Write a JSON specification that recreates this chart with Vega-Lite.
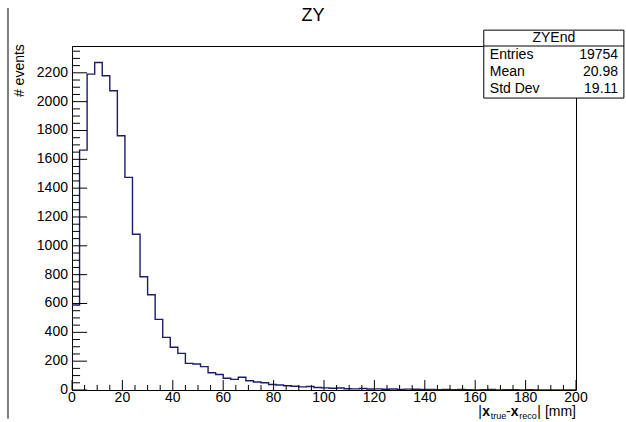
{
  "$schema": "https://vega.github.io/schema/vega-lite/v6.json",
  "width": 504,
  "height": 344,
  "autosize": {"type": "none"},
  "padding": {"left": 72, "top": 46, "right": 50, "bottom": 32},
  "background": "white",
  "config": {
    "view": {"stroke": "black", "strokeWidth": 1},
    "font": "Liberation Sans"
  },
  "datasets": {
    "hist": [
      {"lo": 0, "n": 590}, {"lo": 3, "n": 1664}, {"lo": 6, "n": 2191}, {"lo": 9, "n": 2272}, {"lo": 12, "n": 2180},
      {"lo": 15, "n": 2076}, {"lo": 18, "n": 1764}, {"lo": 21, "n": 1475}, {"lo": 24, "n": 1080}, {"lo": 27, "n": 786},
      {"lo": 30, "n": 661}, {"lo": 33, "n": 490}, {"lo": 36, "n": 365}, {"lo": 39, "n": 296}, {"lo": 42, "n": 254},
      {"lo": 45, "n": 185}, {"lo": 48, "n": 180}, {"lo": 51, "n": 162}, {"lo": 54, "n": 120}, {"lo": 57, "n": 108},
      {"lo": 60, "n": 82}, {"lo": 63, "n": 74}, {"lo": 66, "n": 88}, {"lo": 69, "n": 64}, {"lo": 72, "n": 55},
      {"lo": 75, "n": 50}, {"lo": 78, "n": 38}, {"lo": 81, "n": 35}, {"lo": 84, "n": 30}, {"lo": 87, "n": 26},
      {"lo": 90, "n": 22}, {"lo": 93, "n": 24}, {"lo": 96, "n": 17}, {"lo": 99, "n": 15}, {"lo": 102, "n": 12},
      {"lo": 105, "n": 14}, {"lo": 108, "n": 9}, {"lo": 111, "n": 8}, {"lo": 114, "n": 10}, {"lo": 117, "n": 7},
      {"lo": 120, "n": 8}, {"lo": 123, "n": 5}, {"lo": 126, "n": 7}, {"lo": 129, "n": 4}, {"lo": 132, "n": 6},
      {"lo": 135, "n": 5}, {"lo": 138, "n": 3}, {"lo": 141, "n": 4}, {"lo": 144, "n": 2}, {"lo": 147, "n": 3},
      {"lo": 150, "n": 2}, {"lo": 153, "n": 3}, {"lo": 156, "n": 2}, {"lo": 159, "n": 1}, {"lo": 162, "n": 2},
      {"lo": 165, "n": 3}, {"lo": 168, "n": 1}, {"lo": 171, "n": 2}, {"lo": 174, "n": 2}, {"lo": 177, "n": 1},
      {"lo": 180, "n": 2}, {"lo": 183, "n": 1}, {"lo": 186, "n": 1}, {"lo": 189, "n": 1}, {"lo": 192, "n": 0},
      {"lo": 195, "n": 1}, {"lo": 198, "n": 0}, {"lo": 201, "n": 0}
    ],
    "stats": [
      {"name": "Entries", "value": "19754"},
      {"name": "Mean", "value": "20.98"},
      {"name": "Std Dev", "value": "19.11"}
    ],
    "xticks": [
      {"v": 0}, {"v": 5}, {"v": 10}, {"v": 15}, {"v": 20}, {"v": 25}, {"v": 30}, {"v": 35}, {"v": 40}, {"v": 45},
      {"v": 50}, {"v": 55}, {"v": 60}, {"v": 65}, {"v": 70}, {"v": 75}, {"v": 80}, {"v": 85}, {"v": 90}, {"v": 95},
      {"v": 100}, {"v": 105}, {"v": 110}, {"v": 115}, {"v": 120}, {"v": 125}, {"v": 130}, {"v": 135}, {"v": 140}, {"v": 145},
      {"v": 150}, {"v": 155}, {"v": 160}, {"v": 165}, {"v": 170}, {"v": 175}, {"v": 180}, {"v": 185}, {"v": 190}, {"v": 195}, {"v": 200}
    ],
    "yticks": [
      {"v": 0}, {"v": 50}, {"v": 100}, {"v": 150}, {"v": 200}, {"v": 250}, {"v": 300}, {"v": 350}, {"v": 400}, {"v": 450},
      {"v": 500}, {"v": 550}, {"v": 600}, {"v": 650}, {"v": 700}, {"v": 750}, {"v": 800}, {"v": 850}, {"v": 900}, {"v": 950},
      {"v": 1000}, {"v": 1050}, {"v": 1100}, {"v": 1150}, {"v": 1200}, {"v": 1250}, {"v": 1300}, {"v": 1350}, {"v": 1400}, {"v": 1450},
      {"v": 1500}, {"v": 1550}, {"v": 1600}, {"v": 1650}, {"v": 1700}, {"v": 1750}, {"v": 1800}, {"v": 1850}, {"v": 1900}, {"v": 1950},
      {"v": 2000}, {"v": 2050}, {"v": 2100}, {"v": 2150}, {"v": 2200}, {"v": 2250}, {"v": 2300}, {"v": 2350}
    ],
    "one": [{}]
  },
  "layer": [
    {
      "data": {"name": "hist"},
      "mark": {"type": "line", "interpolate": "step-after", "color": "#1c1c6a", "strokeWidth": 1.4, "clip": true},
      "encoding": {
        "x": {"field": "lo", "type": "quantitative", "scale": {"domain": [0, 200], "nice": false, "zero": false}, "axis": null},
        "y": {"field": "n", "type": "quantitative", "scale": {"domain": [0, 2386], "nice": false, "zero": false}, "axis": null}
      }
    },
    {
      "data": {"name": "xticks"},
      "transform": [{"filter": "datum.v % 20 == 0"}],
      "mark": {"type": "rule", "color": "black", "strokeWidth": 1},
      "encoding": {
        "x": {"field": "v", "type": "quantitative", "axis": null},
        "y": {"datum": 0, "type": "quantitative", "axis": null},
        "y2": {"datum": 69}
      }
    },
    {
      "data": {"name": "xticks"},
      "transform": [{"filter": "datum.v % 20 != 0"}],
      "mark": {"type": "rule", "color": "black", "strokeWidth": 1},
      "encoding": {
        "x": {"field": "v", "type": "quantitative", "axis": null},
        "y": {"datum": 0, "type": "quantitative", "axis": null},
        "y2": {"datum": 35}
      }
    },
    {
      "data": {"name": "yticks"},
      "transform": [{"filter": "datum.v % 200 == 0"}],
      "mark": {"type": "rule", "color": "black", "strokeWidth": 1},
      "encoding": {
        "y": {"field": "v", "type": "quantitative", "axis": null},
        "x": {"datum": 0, "type": "quantitative", "axis": null},
        "x2": {"datum": 6.0}
      }
    },
    {
      "data": {"name": "yticks"},
      "transform": [{"filter": "datum.v % 200 != 0"}],
      "mark": {"type": "rule", "color": "black", "strokeWidth": 1},
      "encoding": {
        "y": {"field": "v", "type": "quantitative", "axis": null},
        "x": {"datum": 0, "type": "quantitative", "axis": null},
        "x2": {"datum": 3.2}
      }
    },
    {
      "data": {"name": "xticks"},
      "transform": [{"filter": "datum.v % 20 == 0"}],
      "mark": {"type": "text", "align": "center", "baseline": "middle", "fontSize": 14, "font": "Liberation Sans", "color": "black"},
      "encoding": {
        "x": {"field": "v", "type": "quantitative", "axis": null},
        "y": {"datum": -55, "type": "quantitative", "axis": null},
        "text": {"field": "v", "type": "quantitative", "format": "d"}
      }
    },
    {
      "data": {"name": "yticks"},
      "transform": [{"filter": "datum.v % 200 == 0"}],
      "mark": {"type": "text", "align": "right", "baseline": "middle", "fontSize": 14, "font": "Liberation Sans", "color": "black"},
      "encoding": {
        "y": {"field": "v", "type": "quantitative", "axis": null},
        "x": {"datum": -1.6, "type": "quantitative", "axis": null},
        "text": {"field": "v", "type": "quantitative", "format": "d"}
      }
    },
    {
      "data": {"name": "one"},
      "mark": {"type": "text", "align": "right", "baseline": "middle", "angle": 270, "fontSize": 14, "font": "Liberation Sans", "color": "black"},
      "encoding": {
        "x": {"datum": -20.6, "type": "quantitative", "axis": null},
        "y": {"datum": 2399, "type": "quantitative", "axis": null},
        "text": {"value": "# events"}
      }
    },
    {
      "data": {"name": "one"},
      "mark": {"type": "text", "align": "center", "baseline": "middle", "fontSize": 18, "font": "Liberation Sans", "color": "black"},
      "encoding": {
        "x": {"datum": 95.6, "type": "quantitative", "axis": null},
        "y": {"datum": 2594, "type": "quantitative", "axis": null},
        "text": {"value": "ZY"}
      }
    },
    {
      "data": {"name": "one"},
      "mark": {"type": "rule", "color": "#555555", "strokeWidth": 1.5},
      "encoding": {
        "x": {"datum": -25.4, "type": "quantitative", "axis": null},
        "y": {"datum": -200, "type": "quantitative", "axis": null},
        "y2": {"datum": 2650}
      }
    },
    {
      "data": {"name": "one"},
      "mark": {"type": "rect", "fill": "white", "stroke": "black", "strokeWidth": 1},
      "encoding": {
        "x": {"datum": 163.4, "type": "quantitative", "axis": null},
        "x2": {"datum": 219.0},
        "y": {"datum": 2496, "type": "quantitative", "axis": null},
        "y2": {"datum": 2025}
      }
    },
    {
      "data": {"name": "one"},
      "mark": {"type": "rule", "color": "black", "strokeWidth": 1},
      "encoding": {
        "x": {"datum": 163.4, "type": "quantitative", "axis": null},
        "x2": {"datum": 219.0},
        "y": {"datum": 2386, "type": "quantitative", "axis": null}
      }
    },
    {
      "data": {"name": "one"},
      "mark": {"type": "text", "align": "center", "baseline": "middle", "fontSize": 14, "font": "Liberation Sans", "color": "black"},
      "encoding": {
        "x": {"datum": 191.2, "type": "quantitative", "axis": null},
        "y": {"datum": 2441, "type": "quantitative", "axis": null},
        "text": {"value": "ZYEnd"}
      }
    },
    {
      "data": {"name": "stats"},
      "transform": [{"filter": "datum.name == 'Entries'"}],
      "layer": [
        {"mark": {"type": "text", "align": "left", "baseline": "middle", "fontSize": 14, "font": "Liberation Sans", "color": "black"},
         "encoding": {"x": {"datum": 165.8, "type": "quantitative", "axis": null}, "y": {"datum": 2323, "type": "quantitative", "axis": null}, "text": {"field": "name"}}},
        {"mark": {"type": "text", "align": "right", "baseline": "middle", "fontSize": 14, "font": "Liberation Sans", "color": "black"},
         "encoding": {"x": {"datum": 216.7, "type": "quantitative", "axis": null}, "y": {"datum": 2323, "type": "quantitative", "axis": null}, "text": {"field": "value"}}}
      ]
    },
    {
      "data": {"name": "stats"},
      "transform": [{"filter": "datum.name == 'Mean'"}],
      "layer": [
        {"mark": {"type": "text", "align": "left", "baseline": "middle", "fontSize": 14, "font": "Liberation Sans", "color": "black"},
         "encoding": {"x": {"datum": 165.8, "type": "quantitative", "axis": null}, "y": {"datum": 2205, "type": "quantitative", "axis": null}, "text": {"field": "name"}}},
        {"mark": {"type": "text", "align": "right", "baseline": "middle", "fontSize": 14, "font": "Liberation Sans", "color": "black"},
         "encoding": {"x": {"datum": 216.7, "type": "quantitative", "axis": null}, "y": {"datum": 2205, "type": "quantitative", "axis": null}, "text": {"field": "value"}}}
      ]
    },
    {
      "data": {"name": "stats"},
      "transform": [{"filter": "datum.name == 'Std Dev'"}],
      "layer": [
        {"mark": {"type": "text", "align": "left", "baseline": "middle", "fontSize": 14, "font": "Liberation Sans", "color": "black"},
         "encoding": {"x": {"datum": 165.8, "type": "quantitative", "axis": null}, "y": {"datum": 2087, "type": "quantitative", "axis": null}, "text": {"field": "name"}}},
        {"mark": {"type": "text", "align": "right", "baseline": "middle", "fontSize": 14, "font": "Liberation Sans", "color": "black"},
         "encoding": {"x": {"datum": 216.7, "type": "quantitative", "axis": null}, "y": {"datum": 2087, "type": "quantitative", "axis": null}, "text": {"field": "value"}}}
      ]
    },
    {
      "data": {"name": "one"},
      "mark": {"type": "text", "align": "right", "baseline": "alphabetic", "fontSize": 14, "font": "Liberation Sans", "color": "black"},
      "encoding": {"x": {"datum": 200, "type": "quantitative", "axis": null}, "y": {"datum": -180, "type": "quantitative", "axis": null}, "text": {"value": "| [mm]"}}
    },
    {
      "data": {"name": "one"},
      "mark": {"type": "text", "align": "right", "baseline": "alphabetic", "fontSize": 9, "font": "Liberation Sans", "color": "black"},
      "encoding": {"x": {"datum": 184.4, "type": "quantitative", "axis": null}, "y": {"datum": -201, "type": "quantitative", "axis": null}, "text": {"value": "reco"}}
    },
    {
      "data": {"name": "one"},
      "mark": {"type": "text", "align": "right", "baseline": "alphabetic", "fontSize": 14, "fontWeight": "bold", "font": "Liberation Sans", "color": "black"},
      "encoding": {"x": {"datum": 177.2, "type": "quantitative", "axis": null}, "y": {"datum": -180, "type": "quantitative", "axis": null}, "text": {"value": "x"}}
    },
    {
      "data": {"name": "one"},
      "mark": {"type": "text", "align": "right", "baseline": "alphabetic", "fontSize": 14, "font": "Liberation Sans", "color": "black"},
      "encoding": {"x": {"datum": 174.1, "type": "quantitative", "axis": null}, "y": {"datum": -180, "type": "quantitative", "axis": null}, "text": {"value": "-"}}
    },
    {
      "data": {"name": "one"},
      "mark": {"type": "text", "align": "right", "baseline": "alphabetic", "fontSize": 9, "font": "Liberation Sans", "color": "black"},
      "encoding": {"x": {"datum": 172.3, "type": "quantitative", "axis": null}, "y": {"datum": -201, "type": "quantitative", "axis": null}, "text": {"value": "true"}}
    },
    {
      "data": {"name": "one"},
      "mark": {"type": "text", "align": "right", "baseline": "alphabetic", "fontSize": 14, "fontWeight": "bold", "font": "Liberation Sans", "color": "black"},
      "encoding": {"x": {"datum": 165.9, "type": "quantitative", "axis": null}, "y": {"datum": -180, "type": "quantitative", "axis": null}, "text": {"value": "x"}}
    },
    {
      "data": {"name": "one"},
      "mark": {"type": "text", "align": "right", "baseline": "alphabetic", "fontSize": 14, "font": "Liberation Sans", "color": "black"},
      "encoding": {"x": {"datum": 162.7, "type": "quantitative", "axis": null}, "y": {"datum": -180, "type": "quantitative", "axis": null}, "text": {"value": "|"}}
    }
  ]
}
